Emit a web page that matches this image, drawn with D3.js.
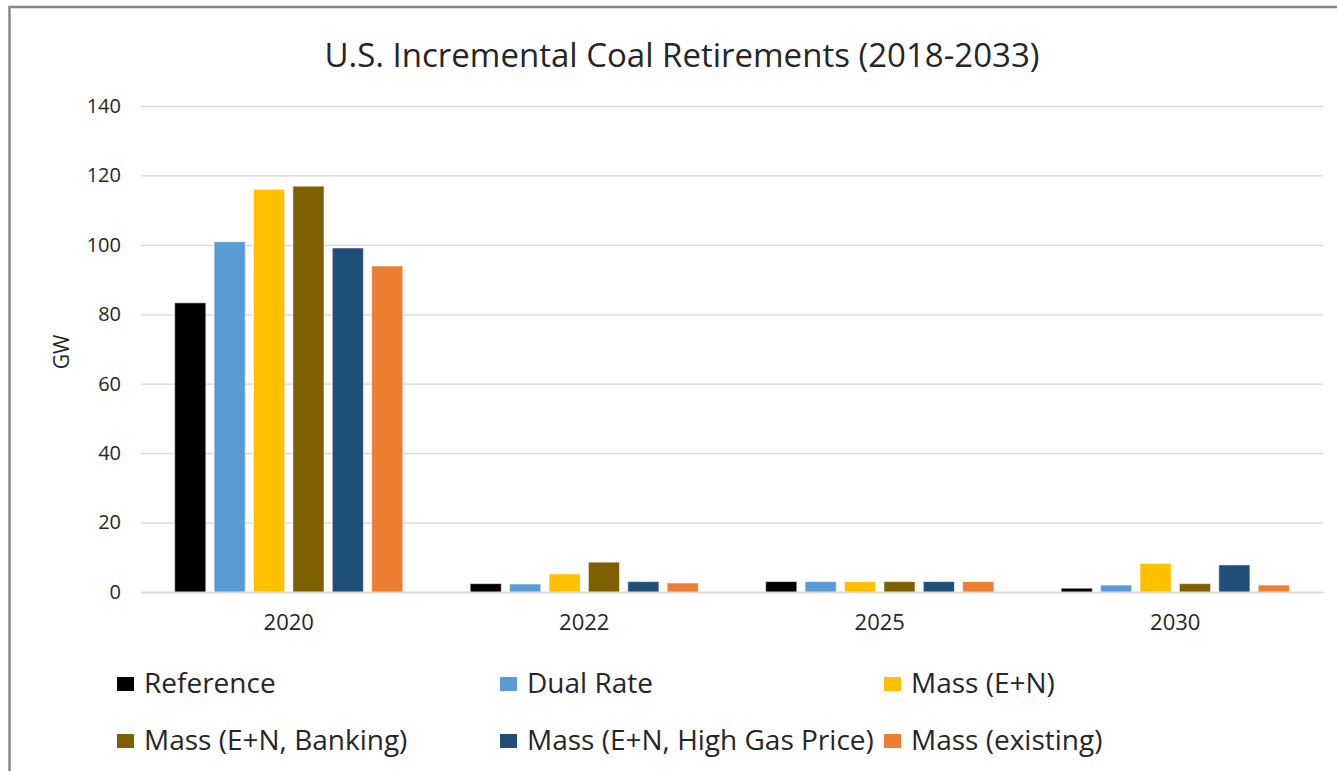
<!DOCTYPE html>
<html>
<head>
<meta charset="utf-8">
<script src="https://cdn.jsdelivr.net/npm/d3@7"></script>
<style>
  html, body { margin: 0; padding: 0; background: #fff; }
  svg { display: block; }
  text { font-family: "Open Sans", Lato, sans-serif; fill: #262626; }
</style>
</head>
<body>
<svg id="chart" width="1337" height="771"></svg>
<script>
// ---- data ----
const years = ["2020", "2022", "2025", "2030"];
const seriesNames = ["Reference", "Dual Rate", "Mass (E+N)", "Mass (E+N, Banking)", "Mass (E+N, High Gas Price)", "Mass (existing)"];
const seriesColors = ["#000000", "#5B9BD5", "#FFC000", "#7F6000", "#1F4E79", "#ED7D31"];
const reference   = [83.3, 2.4, 3.0, 1.1];
const dualRate    = [100.9, 2.3, 3.0, 2.0];
const massEN      = [116.0, 5.2, 3.0, 8.2];
const massBanking = [116.9, 8.6, 3.0, 2.4];
const massHighGas = [99.1, 3.0, 3.0, 7.8];
const massExisting = [93.9, 2.6, 3.0, 2.0];
const yTicks = [0, 20, 40, 60, 80, 100, 120, 140];
const chartTitle = "U.S. Incremental Coal Retirements (2018-2033)";
const yTitle = "GW";

const seriesValues = [reference, dualRate, massEN, massBanking, massHighGas, massExisting];

// ---- layout ----
const svg = d3.select("#chart");
const W = 1337, H = 771;
const plot = { left: 141, right: 1323, top: 106, bottom: 592 };
const FONT = "'Open Sans', Lato, sans-serif";

// outer border
svg.append("rect")
  .attr("x", 9.5).attr("y", 7).attr("width", W + 20).attr("height", H + 20)
  .attr("fill", "#fff").attr("stroke", "#888888").attr("stroke-width", 2.5);

const y = d3.scaleLinear().domain([0, 140]).range([plot.bottom, plot.top]);
const x0 = d3.scaleBand().domain(years).range([plot.left, plot.right]).padding(0);
const x1 = d3.scaleBand().domain(seriesNames).range([0, x0.bandwidth()])
  .paddingInner(0.21).paddingOuter(0.855);
const color = d3.scaleOrdinal().domain(seriesNames).range(seriesColors);

// gridlines
const yAxis = d3.axisLeft(y).tickValues(yTicks).tickSize(-(plot.right - plot.left)).tickPadding(20);
const gy = svg.append("g").attr("transform", `translate(${plot.left},0)`).call(yAxis);
gy.select(".domain").remove();
gy.selectAll(".tick line").attr("stroke", "#d9d9d9").attr("stroke-width", 1.3);
gy.selectAll(".tick text").attr("font-size", 20).attr("fill", "#404040")
  .style("font-family", FONT);

// bars
const rows = years.map((yr, i) => ({ year: yr, vals: seriesNames.map((s, j) => ({ s, v: seriesValues[j][i] })) }));
const groups = svg.append("g").selectAll("g").data(rows).join("g")
  .attr("transform", d => `translate(${x0(d.year)},0)`);
groups.selectAll("rect").data(d => d.vals).join("rect")
  .attr("x", d => x1(d.s))
  .attr("width", x1.bandwidth())
  .attr("y", d => y(d.v))
  .attr("height", d => y(0) - y(d.v))
  .attr("fill", d => color(d.s))
  .attr("stroke", "#ffffff").attr("stroke-opacity", 0.55).attr("stroke-width", 1);

// x axis
const xAxis = d3.axisBottom(x0).tickSize(0).tickPadding(22);
const gx = svg.append("g").attr("transform", `translate(0,${plot.bottom})`).call(xAxis);
gx.select(".domain").attr("stroke", "#d9d9d9").attr("stroke-width", 1.5);
gx.selectAll(".tick text").attr("font-size", 22).attr("fill", "#404040")
  .style("font-family", FONT);

// title
svg.append("text").attr("x", 682).attr("y", 67).attr("text-anchor", "middle")
  .attr("font-size", 33).attr("fill", "#262626").text(chartTitle);

// y title
svg.append("text").attr("transform", "translate(69,352) rotate(-90)")
  .attr("text-anchor", "middle").attr("font-size", 21).attr("fill", "#262626").text(yTitle);

// legend
const legendCols = [117, 500, 884];
const legendRows = [684, 741];
const leg = svg.append("g").selectAll("g").data(seriesNames).join("g")
  .attr("transform", (d, i) => `translate(${legendCols[i % 3]},${legendRows[Math.floor(i / 3)]})`);
leg.append("rect").attr("x", 0).attr("y", -7).attr("width", 17).attr("height", 14)
  .attr("fill", d => color(d));
leg.append("text").attr("x", 27).attr("y", 9).attr("font-size", 28).attr("fill", "#000")
  .text(d => d);
</script>
</body>
</html>
